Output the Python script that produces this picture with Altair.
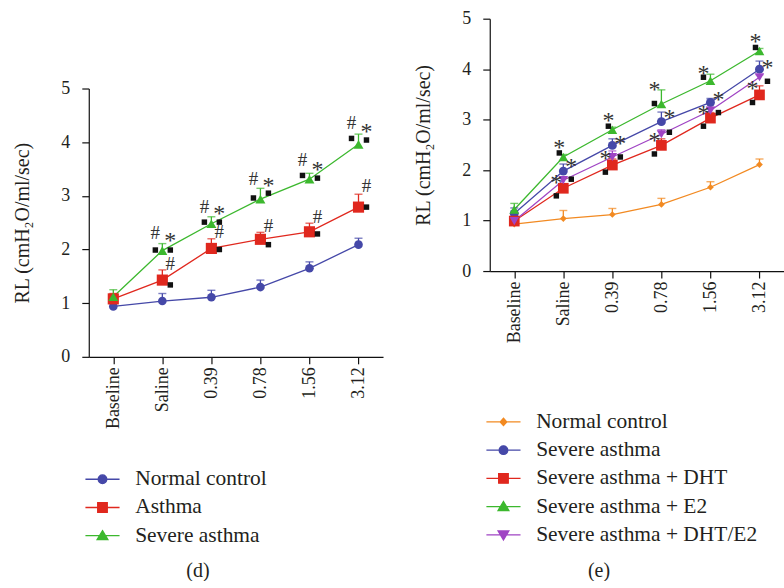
import altair as alt
import pandas as pd

FONT = "Liberation Serif"
TXT = "#231f20"

doses = ["Baseline", "Saline", "0.39", "0.78", "1.56", "3.12"]

# ---------------- panel (d) ----------------
d_groups = ["Normal control", "Asthma", "Severe asthma"]
d_normal_mean = [0.94, 1.04, 1.11, 1.30, 1.65, 2.09]
d_normal_sem = [0.11, 0.14, 0.13, 0.13, 0.12, 0.12]
d_asthma_mean = [1.08, 1.43, 2.02, 2.19, 2.33, 2.79]
d_asthma_sem = [0.10, 0.19, 0.18, 0.13, 0.16, 0.24]
d_severe_mean = [1.12, 1.98, 2.48, 2.94, 3.31, 3.96]
d_severe_sem = [0.13, 0.13, 0.13, 0.20, 0.11, 0.19]
d_colors = ["#4548a8", "#e0281e", "#3cb82e"]
d_shapes = ["circle", "square", "triangle-up"]
d_sizes = [75, 125, 100]

d_ann_dose = ["Saline"] * 6 + ["0.39"] * 6 + ["0.78"] * 6 + ["1.56"] * 6 + ["3.12"] * 6
d_ann_value = [1.99, 1.99, 2.30, 2.26, 1.73, 1.34,
               2.51, 2.51, 2.80, 2.76, 2.32, 2.00,
               2.96, 3.05, 3.31, 3.28, 2.43, 2.09,
               3.38, 3.33, 3.66, 3.57, 2.61, 2.29,
               4.07, 4.04, 4.36, 4.28, 3.18, 2.79]
d_ann_kind = ["sq", "sq", "#", "*", "#", "sq"] * 5
d_ann_side = ["L", "R", "L", "R", "R", "R"] * 5

# ---------------- panel (e) ----------------
e_groups = ["Normal control", "Severe asthma", "Severe asthma + DHT",
            "Severe asthma + E2", "Severe asthma + DHT/E2"]
e_normal_mean = [0.93, 1.04, 1.12, 1.32, 1.66, 2.11]
e_normal_sem = [0.04, 0.16, 0.12, 0.12, 0.11, 0.11]
e_severe_mean = [1.14, 1.98, 2.49, 2.96, 3.34, 4.00]
e_severe_sem = [0.11, 0.14, 0.13, 0.19, 0.08, 0.16]
e_dht_mean = [0.99, 1.64, 2.10, 2.49, 3.03, 3.49]
e_dht_sem = [0.05, 0.20, 0.12, 0.13, 0.11, 0.18]
e_e2_mean = [1.22, 2.26, 2.80, 3.31, 3.77, 4.36]
e_e2_sem = [0.12, 0.05, 0.05, 0.28, 0.13, 0.05]
e_dhte2_mean = [0.99, 1.80, 2.26, 2.71, 3.18, 3.84]
e_dhte2_sem = [0.05, 0.06, 0.12, 0.09, 0.06, 0.05]
e_colors = ["#f28a22", "#4548a8", "#e0281e", "#3cb82e", "#a044c4"]
e_shapes = ["diamond", "circle", "square", "triangle-up", "triangle-down"]
e_sizes = [45, 80, 115, 95, 90]

e_ann_dose = ["Saline"] * 6 + ["0.39"] * 6 + ["0.78"] * 6 + ["1.56"] * 6 + ["3.12"] * 6
e_ann_value = [2.54, 2.34, 2.16, 1.82, 1.85, 1.49,
               3.07, 2.87, 2.61, 2.26, 2.31, 1.96,
               3.68, 3.32, 3.13, 2.75, 2.68, 2.32,
               4.01, 3.84, 3.49, 3.14, 3.22, 2.87,
               4.64, 4.43, 4.12, 3.76, 3.70, 3.34]
e_ann_kind = ["*", "sq"] * 15
e_ann_side = ["l", "l", "R", "R", "L", "L",
              "l", "l", "R", "R", "L", "L",
              "L", "L", "R", "R", "L", "L",
              "L", "L", "R", "R", "L", "L",
              "l", "l", "R", "R", "L", "L"]

SIDE_DX = {"L": -7, "l": -4, "R": 8}

# legend symbols: a line through the marker
LINE = "M-2.85,0H2.85"
P_CIRCLE = LINE + "M-0.72,0A0.72,0.72,0,1,0,0.72,0A0.72,0.72,0,1,0,-0.72,0Z"
P_SQUARE = LINE + "M-0.8,-0.8H0.8V0.8H-0.8Z"
P_TRI_UP = LINE + "M0,-0.85L0.9,0.65H-0.9Z"
P_TRI_DN = LINE + "M0,0.85L0.9,-0.65H-0.9Z"
P_DIAMOND = LINE + "M0,-0.62L0.55,0L0,0.62L-0.55,0Z"


def long_df(groups, means, sems):
    rows = []
    for g, m, s in zip(groups, means, sems):
        for dose, mv, sv in zip(doses, m, s):
            rows.append({"group": g, "dose": dose, "mean": mv, "upper": round(mv + sv, 3)})
    return pd.DataFrame(rows)


def ann_df(dose, value, kind, side):
    return pd.DataFrame({"dose": dose, "value": value, "kind": kind, "side": side})


def panel(df, ann, groups, colors, shapes, sizes, paths, height,
          legend_y, caption, caption_y):
    xscale = alt.Scale(type="point", domain=doses, padding=0.5)
    xaxis = alt.Axis(title=caption, titleX=109, titleY=caption_y, titleAngle=0,
                     titleAlign="center", titleBaseline="middle",
                     titleFont=FONT, titleFontSize=20, titleFontWeight="normal",
                     titleColor=TXT, labelAngle=-90, labelPadding=3)
    yscale = alt.Scale(domain=[0, 5], nice=False, zero=True)
    yaxis = alt.Axis(title="RL (cmH\u2082O/ml/sec)", values=[0, 1, 2, 3, 4, 5],
                     titleFont=FONT, titleFontSize=20, titleFontWeight="normal",
                     titleColor=TXT, titlePadding=28, labelPadding=12)
    color = alt.Color("group:N", scale=alt.Scale(domain=groups, range=colors), legend=None)
    x = alt.X("dose:N", scale=xscale, axis=xaxis, sort=doses)

    def Y(field):
        return alt.Y(field, scale=yscale, axis=yaxis)

    base = alt.Chart(df)

    leg = alt.Legend(orient="none", legendX=3, legendY=legend_y, direction="vertical",
                     title=None, labelFont=FONT, labelFontSize=21.5, labelColor=TXT,
                     symbolSize=144, symbolStrokeWidth=1.3, symbolOpacity=1,
                     labelOffset=22, rowPadding=5.3, labelLimit=400)
    legend_layer = base.mark_point(filled=True, size=0, strokeWidth=0).encode(
        x=x, y=Y("mean:Q"),
        fill=alt.Fill("group:N", scale=alt.Scale(domain=groups, range=colors), legend=leg),
        stroke=alt.Stroke("group:N", scale=alt.Scale(domain=groups, range=colors), legend=leg),
        shape=alt.Shape("group:N", scale=alt.Scale(domain=groups, range=paths), legend=leg),
    )

    err = base.mark_rule(strokeWidth=1.3).encode(x=x, y=Y("mean:Q"), y2="upper:Q", color=color)
    cap = base.mark_tick(size=8, thickness=1.4).encode(x=x, y=Y("upper:Q"), color=color)
    line = base.mark_line(strokeWidth=1.3).encode(x=x, y=Y("mean:Q"), color=color, detail="group:N")

    pts = []
    for g, shp, sz in zip(groups, shapes, sizes):
        pts.append(base.mark_point(filled=True, opacity=1, shape=shp, size=sz).encode(
            x=x, y=Y("mean:Q"), color=color
        ).transform_filter(alt.datum.group == g))

    abase = alt.Chart(ann)
    marks = []
    for side, dx in SIDE_DX.items():
        sel = abase.transform_filter(alt.datum.side == side)
        marks.append(sel.mark_square(size=30, color="#111111", opacity=1, xOffset=dx).encode(
            x=x, y=Y("value:Q")).transform_filter(alt.datum.kind == "sq"))
        marks.append(sel.mark_text(font=FONT, fontSize=19, color="#333333", baseline="middle",
                                   dx=dx).encode(
            x=x, y=Y("value:Q"), text="kind:N").transform_filter(alt.datum.kind == "#"))
        marks.append(sel.mark_text(font=FONT, fontSize=24, color="#333333", baseline="middle",
                                   dx=dx, dy=5).encode(
            x=x, y=Y("value:Q"), text="kind:N").transform_filter(alt.datum.kind == "*"))

    layers = alt.layer(legend_layer, line, err, cap, *pts, *marks)
    return layers.properties(width=295, height=height)


d_df = long_df(d_groups, [d_normal_mean, d_asthma_mean, d_severe_mean],
               [d_normal_sem, d_asthma_sem, d_severe_sem])
e_df = long_df(e_groups, [e_normal_mean, e_severe_mean, e_dht_mean, e_e2_mean, e_dhte2_mean],
               [e_normal_sem, e_severe_sem, e_dht_sem, e_e2_sem, e_dhte2_sem])

d_plot = panel(d_df, ann_df(d_ann_dose, d_ann_value, d_ann_kind, d_ann_side),
               d_groups, d_colors, d_shapes, d_sizes,
               [P_CIRCLE, P_SQUARE, P_TRI_UP], 269, 451, "(d)", 214)
e_plot = panel(e_df, ann_df(e_ann_dose, e_ann_value, e_ann_kind, e_ann_side),
               e_groups, e_colors, e_shapes, e_sizes,
               [P_DIAMOND, P_CIRCLE, P_SQUARE, P_TRI_UP, P_TRI_DN], 253, 393.5, "(e)", 300)

spacer = alt.Chart(pd.DataFrame({"v": [0]})).mark_point(opacity=0).encode(
    x=alt.X("v:Q", axis=None), y=alt.Y("v:Q", axis=None)
).properties(width=295, height=61)

d_chart = alt.vconcat(spacer, d_plot, spacing=0).resolve_scale(x="independent", y="independent")

chart = alt.hconcat(d_chart, e_plot, spacing=31).resolve_scale(
    color="independent", fill="independent", stroke="independent",
    shape="independent", x="independent", y="independent"
).properties(
    padding={"left": 13, "top": 9, "right": 0, "bottom": 0},
    background="white"
).configure_view(stroke=None).configure_axis(
    labelFont=FONT, labelFontSize=18, labelColor=TXT,
    domainColor="#111111", tickColor="#111111", domainWidth=1.2, tickWidth=1.2,
    tickSize=7, grid=False
)

chart.save("out.html", embed_options={"renderer": "svg", "actions": False})
